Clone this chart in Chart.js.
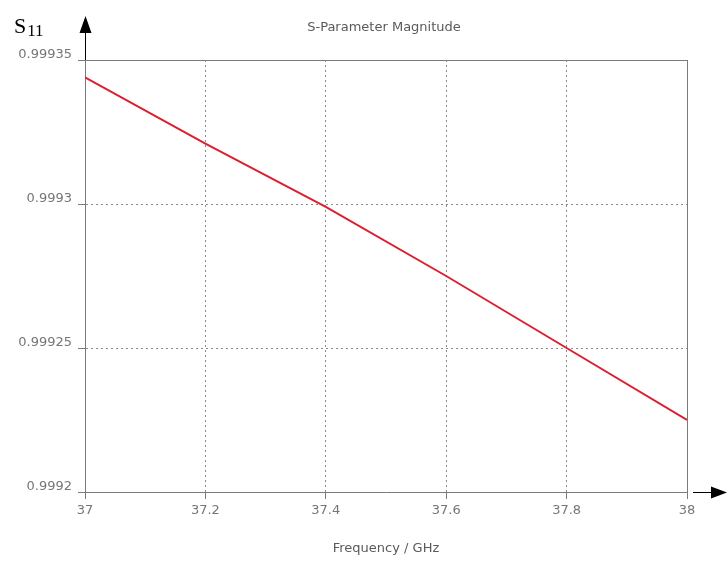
<!DOCTYPE html>
<html>
<head>
<meta charset="utf-8">
<script src="https://cdn.jsdelivr.net/npm/chart.js@4/dist/chart.umd.min.js"></script>
<style>
  html, body { margin: 0; padding: 0; background: #fff; }
  #wrap { position: relative; width: 727px; height: 562px; }
  #s11 {
    position: absolute; left: 14px; top: 15px;
    font-family: "Liberation Serif", "DejaVu Serif", serif;
    font-size: 22px; color: #000; line-height: 1;
  }
  #s11 sub { font-size: 17px; vertical-align: -3px; margin-left: 1px; }
</style>
</head>
<body>
<div id="wrap">
  <canvas id="chart" width="727" height="562"></canvas>
  <div id="s11">S<sub>11</sub></div>
</div>
<script>
const FREQ = [37, 37.2, 37.4, 37.6, 37.8, 38];
const S11  = [0.999344, 0.999321, 0.999299, 0.999275, 0.99925, 0.999225];

const X_TICKS = [37, 37.2, 37.4, 37.6, 37.8, 38];
const X_LABELS = ['37', '37.2', '37.4', '37.6', '37.8', '38'];
const Y_TICKS = [0.9992, 0.99925, 0.9993, 0.99935];
const Y_LABELS = ['0.9992', '0.99925', '0.9993', '0.99935'];

const TITLE = 'S-Parameter Magnitude';
const X_TITLE = 'Frequency / GHz';

const GRID = '#8a8a8a';
const AXIS = '#7a7a7a';
const TEXT = '#767676';

// title over plot centre, frame + arrows
const framePlugin = {
  id: 'frame',
  afterDraw(chart) {
    const { ctx, chartArea: a } = chart;
    ctx.save();
    ctx.fillStyle = '#5a5a5a';
    ctx.font = '13px "DejaVu Sans"';
    ctx.textAlign = 'center';
    ctx.textBaseline = 'middle';
    ctx.fillText(TITLE, (a.left + a.right) / 2 - 2, 28);

    ctx.strokeStyle = AXIS;
    ctx.lineWidth = 1;
    ctx.beginPath();
    ctx.moveTo(a.left, a.top + 0.5);
    ctx.lineTo(a.right, a.top + 0.5);
    ctx.moveTo(a.right + 0.5, a.top);
    ctx.lineTo(a.right + 0.5, a.bottom);
    ctx.stroke();

    ctx.strokeStyle = '#000';
    ctx.fillStyle = '#000';
    // y arrow
    ctx.beginPath();
    ctx.moveTo(a.left + 0.5, a.top);
    ctx.lineTo(a.left + 0.5, 30);
    ctx.stroke();
    ctx.beginPath();
    ctx.moveTo(a.left + 0.5, 16);
    ctx.lineTo(a.left - 5.5, 33);
    ctx.lineTo(a.left + 6.5, 33);
    ctx.closePath();
    ctx.fill();
    // x arrow
    ctx.beginPath();
    ctx.moveTo(a.right + 6, a.bottom + 0.5);
    ctx.lineTo(712, a.bottom + 0.5);
    ctx.stroke();
    ctx.beginPath();
    ctx.moveTo(727, a.bottom + 0.5);
    ctx.lineTo(711, a.bottom - 5.5);
    ctx.lineTo(711, a.bottom + 6.5);
    ctx.closePath();
    ctx.fill();
    ctx.restore();
  }
};

new Chart(document.getElementById('chart'), {
  type: 'line',
  data: {
    datasets: [{
      data: FREQ.map((f, i) => ({ x: f, y: S11[i] })),
      borderColor: '#dc1f30',
      borderWidth: 2,
      pointRadius: 0,
      tension: 0,
      fill: false
    }]
  },
  options: {
    responsive: false,
    animation: false,
    layout: { padding: { left: 0, right: 40, top: 60, bottom: 0 } },
    plugins: {
      legend: { display: false },
      tooltip: { enabled: false },
      title: { display: false }
    },
    scales: {
      x: {
        type: 'linear',
        min: 37,
        max: 38,
        afterBuildTicks: s => { s.ticks = X_TICKS.map(v => ({ value: v })); },
        afterFit: s => { s.height = 70; },
        ticks: {
          color: TEXT,
          font: { family: 'DejaVu Sans', size: 13 },
          padding: 4,
          maxRotation: 0,
          autoSkip: false,
          callback: (v, i) => X_LABELS[i]
        },
        grid: {
          color: ctx => (ctx.index === 0 || ctx.index === X_TICKS.length - 1) ? 'rgba(0,0,0,0)' : GRID,
          tickColor: AXIS,
          tickLength: 7,
          lineWidth: 1
        },
        border: { display: true, color: AXIS, width: 1, dash: [2, 3] },
        title: {
          display: true,
          text: X_TITLE,
          color: '#5a5a5a',
          font: { family: 'DejaVu Sans', size: 13 },
          padding: { top: 0, bottom: 6 }
        }
      },
      y: {
        type: 'linear',
        min: 0.9992,
        max: 0.99935,
        afterBuildTicks: s => { s.ticks = Y_TICKS.map(v => ({ value: v })); },
        afterFit: s => { s.width = 85; },
        ticks: {
          color: TEXT,
          font: { family: 'DejaVu Sans', size: 13 },
          padding: 6,
          labelOffset: -5,
          autoSkip: false,
          callback: (v, i) => Y_LABELS[i]
        },
        grid: {
          color: ctx => (ctx.index === 0 || ctx.index === Y_TICKS.length - 1) ? 'rgba(0,0,0,0)' : GRID,
          tickColor: AXIS,
          tickLength: 7,
          lineWidth: 1
        },
        border: { display: true, color: AXIS, width: 1, dash: [2, 3] }
      }
    }
  },
  plugins: [framePlugin]
});
</script>
</body>
</html>
